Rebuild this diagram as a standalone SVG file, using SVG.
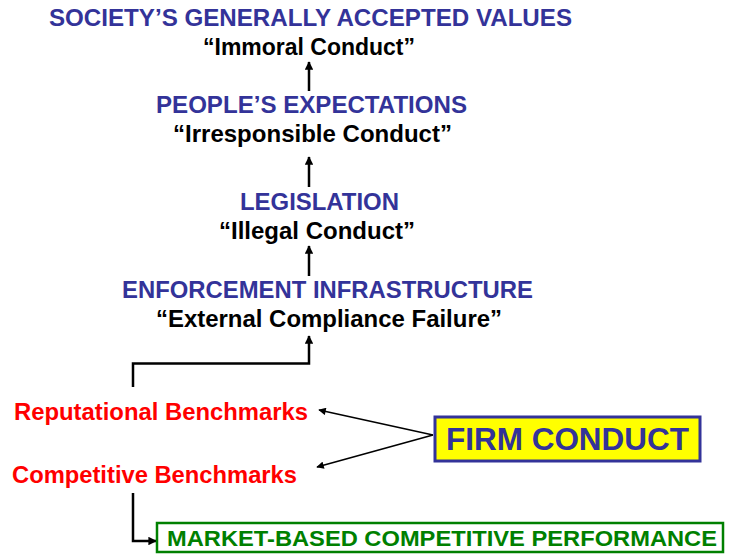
<svg xmlns="http://www.w3.org/2000/svg" width="729" height="558" viewBox="0 0 729 558">
<style>
text{font-family:"Liberation Sans",Arial,sans-serif;font-weight:bold;}
.blue{fill:#333399;font-size:24px;}
.blk{fill:#000;font-size:24px;}
.red{fill:#ff0000;font-size:24px;}
.firm{fill:#333399;font-size:31px;}
.grn{fill:#008000;font-size:22px;}
.conn{fill:none;stroke:#000;stroke-width:2.5;}
.thin{fill:none;stroke:#000;stroke-width:1.5;}
</style>
<defs>
<marker id="ah" viewBox="0 0 10 10" refX="9" refY="5" markerWidth="3.4" markerHeight="3.4" orient="auto" markerUnits="strokeWidth">
<path d="M0,0 L10,5 L0,10 z" fill="#000"/>
</marker>
<marker id="ahs" viewBox="0 0 10 10" refX="9" refY="5" markerWidth="5.5" markerHeight="5" orient="auto" markerUnits="strokeWidth">
<path d="M0,0 L10,5 L0,10 z" fill="#000"/>
</marker>
</defs>
<g id="connectors">
<path class="conn" d="M309,91 V62" marker-end="url(#ah)"/>
<path class="conn" d="M309,187 V157" marker-end="url(#ah)"/>
<path class="conn" d="M309,276 V246" marker-end="url(#ah)"/>
<path class="conn" d="M133,387 V363.5 H309 V336" marker-end="url(#ah)"/>
<path class="conn" d="M133,493 V541 H156" marker-end="url(#ah)"/>
<path class="thin" d="M433,435 L319,410" marker-end="url(#ahs)"/>
<path class="thin" d="M433,435 L317,467" marker-end="url(#ahs)"/>
</g>
<g id="society">
<text class="blue" x="49" y="26" textLength="523" lengthAdjust="spacingAndGlyphs">SOCIETY’S GENERALLY ACCEPTED VALUES</text>
<text class="blk" x="203" y="55" textLength="212" lengthAdjust="spacingAndGlyphs">“Immoral Conduct”</text>
</g>
<g id="people">
<text class="blue" x="156" y="113" textLength="311" lengthAdjust="spacingAndGlyphs">PEOPLE’S EXPECTATIONS</text>
<text class="blk" x="173" y="142" textLength="279" lengthAdjust="spacingAndGlyphs">“Irresponsible Conduct”</text>
</g>
<g id="legislation">
<text class="blue" x="240" y="210" textLength="159" lengthAdjust="spacingAndGlyphs">LEGISLATION</text>
<text class="blk" x="219" y="239" textLength="196" lengthAdjust="spacingAndGlyphs">“Illegal Conduct”</text>
</g>
<g id="enforcement">
<text class="blue" x="122" y="298" textLength="411" lengthAdjust="spacingAndGlyphs">ENFORCEMENT INFRASTRUCTURE</text>
<text class="blk" x="156" y="327" textLength="346" lengthAdjust="spacingAndGlyphs">“External Compliance Failure”</text>
</g>
<g id="reputational">
<text class="red" x="14" y="420" textLength="294" lengthAdjust="spacingAndGlyphs">Reputational Benchmarks</text>
</g>
<g id="competitive">
<text class="red" x="12" y="483" textLength="285" lengthAdjust="spacingAndGlyphs">Competitive Benchmarks</text>
</g>
<g id="firm">
<rect x="435" y="417" width="265" height="44" fill="#ffff00" stroke="#333399" stroke-width="3"/>
<text class="firm" x="446" y="450" textLength="243" lengthAdjust="spacingAndGlyphs">FIRM CONDUCT</text>
</g>
<g id="market">
<rect x="157" y="523" width="566" height="29" fill="#fff" stroke="#008000" stroke-width="2.5"/>
<text class="grn" x="167" y="546" textLength="550" lengthAdjust="spacingAndGlyphs">MARKET-BASED COMPETITIVE PERFORMANCE</text>
</g>
</svg>
